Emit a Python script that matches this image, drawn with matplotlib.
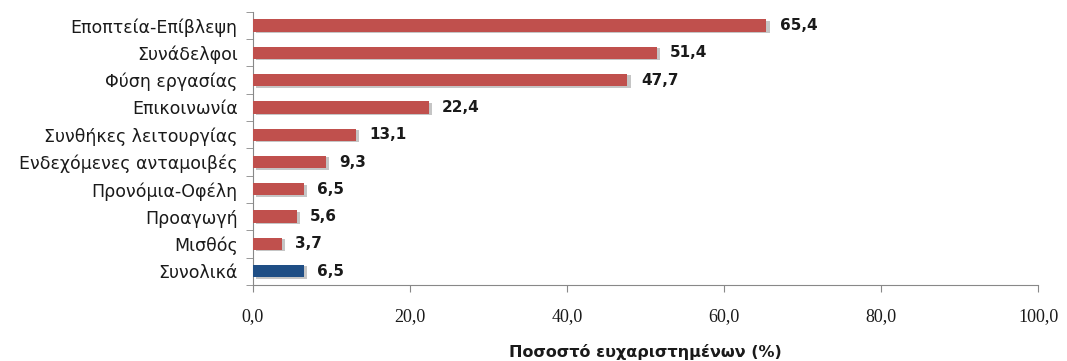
import matplotlib
matplotlib.use("Agg")
import matplotlib.pyplot as plt
import matplotlib.patheffects as pe
import numpy as np

categories = ["Εποπτεία-Επίβλεψη", "Συνάδελφοι", "Φύση εργασίας", "Επικοινωνία",
              "Συνθήκες λειτουργίας", "Ενδεχόμενες ανταμοιβές", "Προνόμια-Οφέλη",
              "Προαγωγή", "Μισθός", "Συνολικά"]
values = [65.4, 51.4, 47.7, 22.4, 13.1, 9.3, 6.5, 5.6, 3.7, 6.5]
bar_colors = ["#c0504d"] * 9 + ["#1f4e85"]
xticks = [0, 20, 40, 60, 80, 100]

fig = plt.figure(figsize=(10.67, 3.61), dpi=100)
ax = fig.add_axes([0.237, 0.211, 0.736, 0.756])

y = np.arange(len(categories))
shadow = [pe.SimplePatchShadow(offset=(2.5, -1), shadow_rgbFace="#808080", alpha=0.45), pe.Normal()]
bars = ax.barh(y, values, height=0.45, color=bar_colors, zorder=3)
for b in bars:
    b.set_path_effects(shadow)

for yi, v in zip(y, values):
    ax.text(v + 1.7, yi, f"{v:.1f}".replace(".", ","), va="center", ha="left",
            fontsize=11, fontweight="bold", color="#1a1a1a")

ax.set_ylim(len(categories) - 0.5, -0.5)
ax.set_xlim(0, 100)
ax.set_yticks(y)
ax.set_yticklabels(categories, fontsize=12.5, color="#1a1a1a")
ax.set_yticks(np.arange(-0.5, len(categories), 1), minor=True)
ax.tick_params(axis="y", which="major", length=0, pad=11)
ax.tick_params(axis="y", which="minor", length=5, color="#888888", direction="out")
ax.set_xticks(xticks)
ax.set_xticklabels([f"{t:.1f}".replace(".", ",") for t in xticks], fontsize=13,
                   family="Liberation Serif", color="#1a1a1a")
ax.tick_params(axis="x", length=5, color="#888888", direction="out", pad=12)

for s in ["top", "right"]:
    ax.spines[s].set_visible(False)
ax.spines["left"].set_color("#888888")
ax.spines["bottom"].set_color("#888888")

fig.text(0.605, 0.026, "Ποσοστό ευχαριστημένων (%)", fontsize=11.5, fontweight="bold",
         ha="center", va="center", color="#1a1a1a")

fig.savefig("out.png", dpi=100)
